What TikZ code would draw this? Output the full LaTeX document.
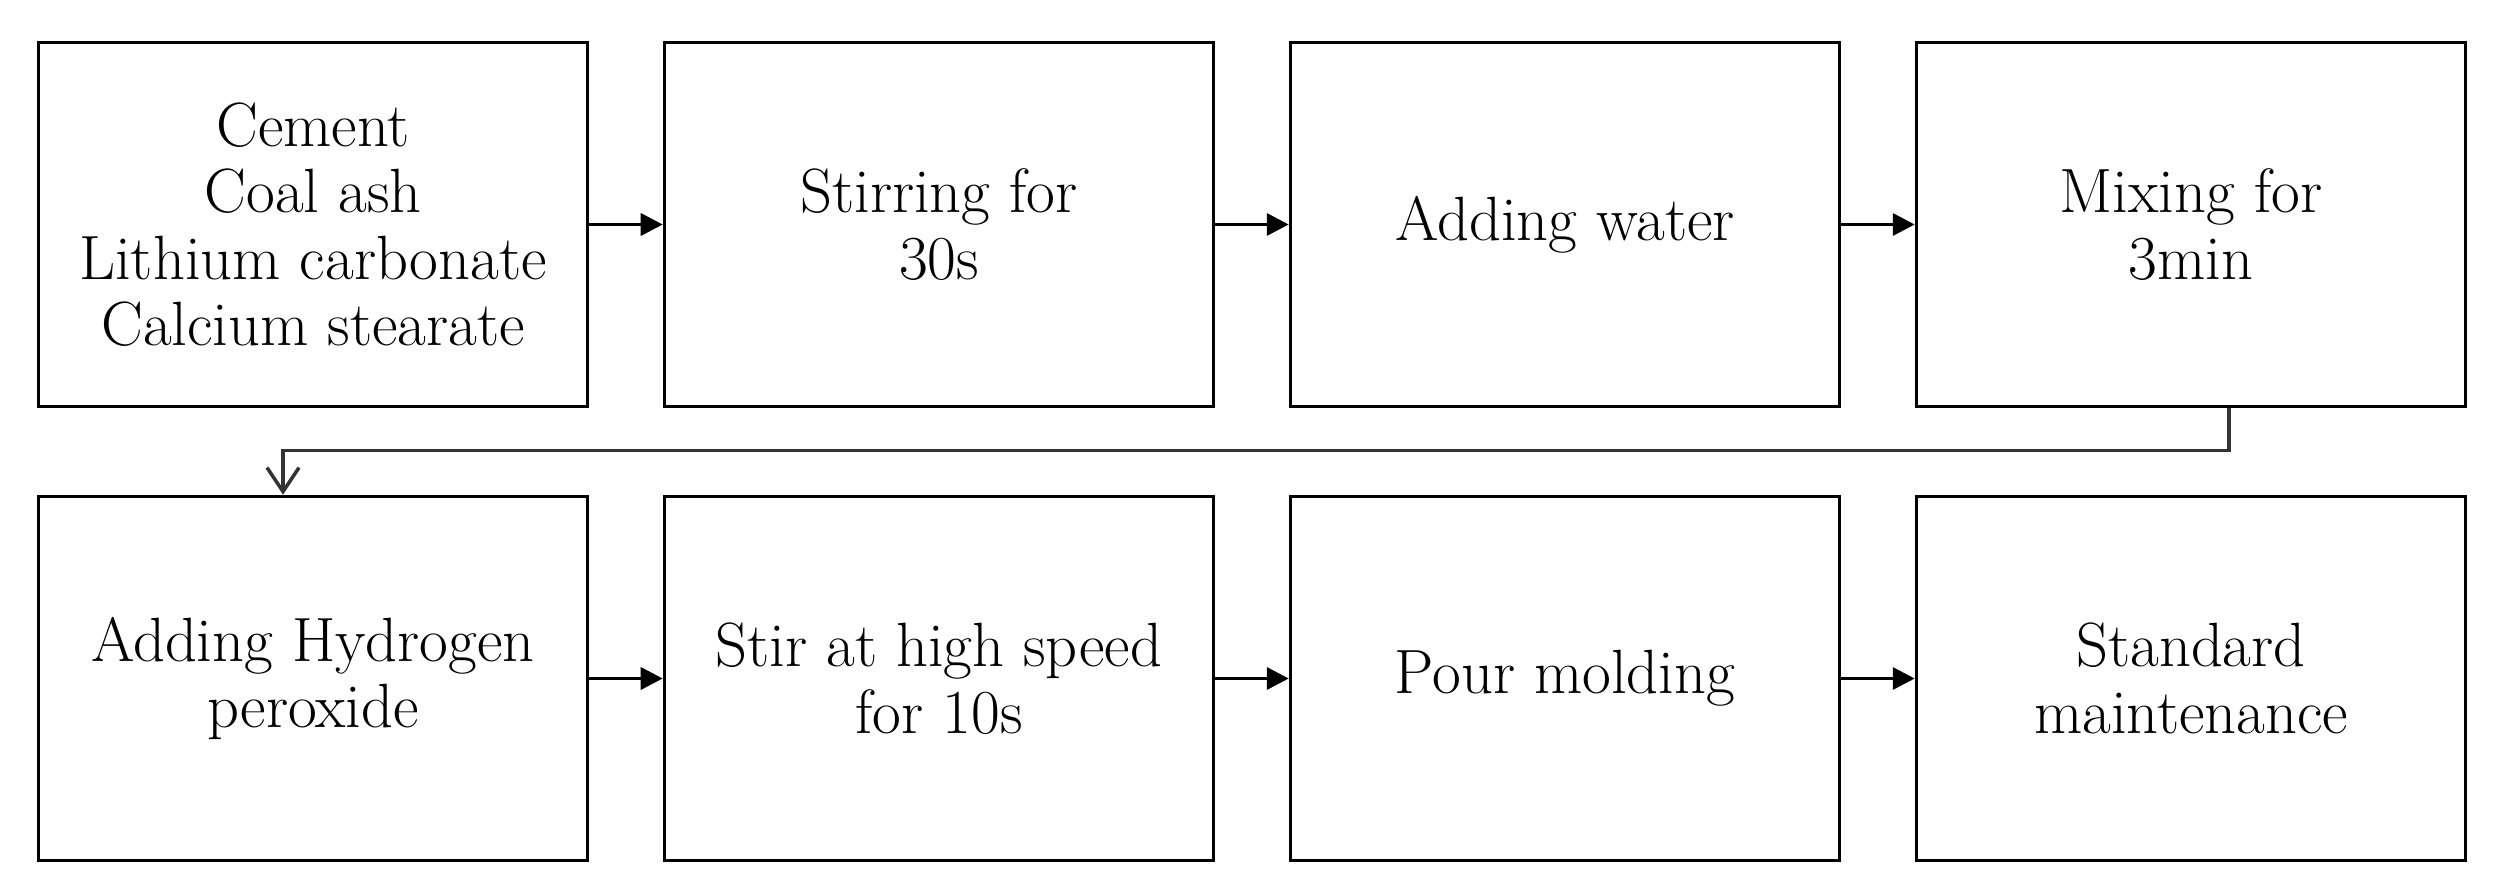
\documentclass[tikz,border=0pt]{standalone}
\usepackage{fontspec}
\usetikzlibrary{arrows.meta}

\begin{document}
\begin{tikzpicture}[x=1cm, y=1cm,
    procbox/.style={draw=black, line width=1pt, minimum width=5.49cm, minimum height=3.64cm,
        inner sep=0pt, align=center, font=\fontsize{17.8}{18.9}\selectfont},
    flow/.style={line width=1pt, -{Triangle[length=2.2mm, width=2.2mm]}},
    backflow/.style={line width=1pt, black!80, -{Straight Barb[length=2.4mm, width=3.2mm, line width=1pt]}}]
        \useasboundingbox (0,0) rectangle (24.96,8.91);

        % first row
        \node[procbox] (mat) at (3.13, 6.665) {Cement\\Coal ash\\Lithium carbonate\\Calcium stearate};
        \node[procbox] (stir) at (9.39, 6.665) {Stirring for\\30s};
        \node[procbox] (water) at (15.65, 6.665) {Adding water};
        \node[procbox] (mix) at (21.91, 6.665) {Mixing for\\3min};

        % second row
        \node[procbox] (hpo) at (3.13, 2.125) {Adding Hydrogen\\peroxide};
        \node[procbox] (fast) at (9.39, 2.125) {Stir at high speed\\for 10s};
        \node[procbox] (pour) at (15.65, 2.125) {Pour molding};
        \node[procbox] (cure) at (21.91, 2.125) {Standard\\maintenance};

        \draw[flow] (mat) -- (stir);
        \draw[flow] (stir) -- (water);
        \draw[flow] (water) -- (mix);
        \draw[flow] (hpo) -- (fast);
        \draw[flow] (fast) -- (pour);
        \draw[flow] (pour) -- (cure);

        \draw[backflow] ([xshift=3.8mm]mix.south) -- ++(0,-0.42) -| ([xshift=-3mm]hpo.north);
    \end{tikzpicture}
\end{document}
